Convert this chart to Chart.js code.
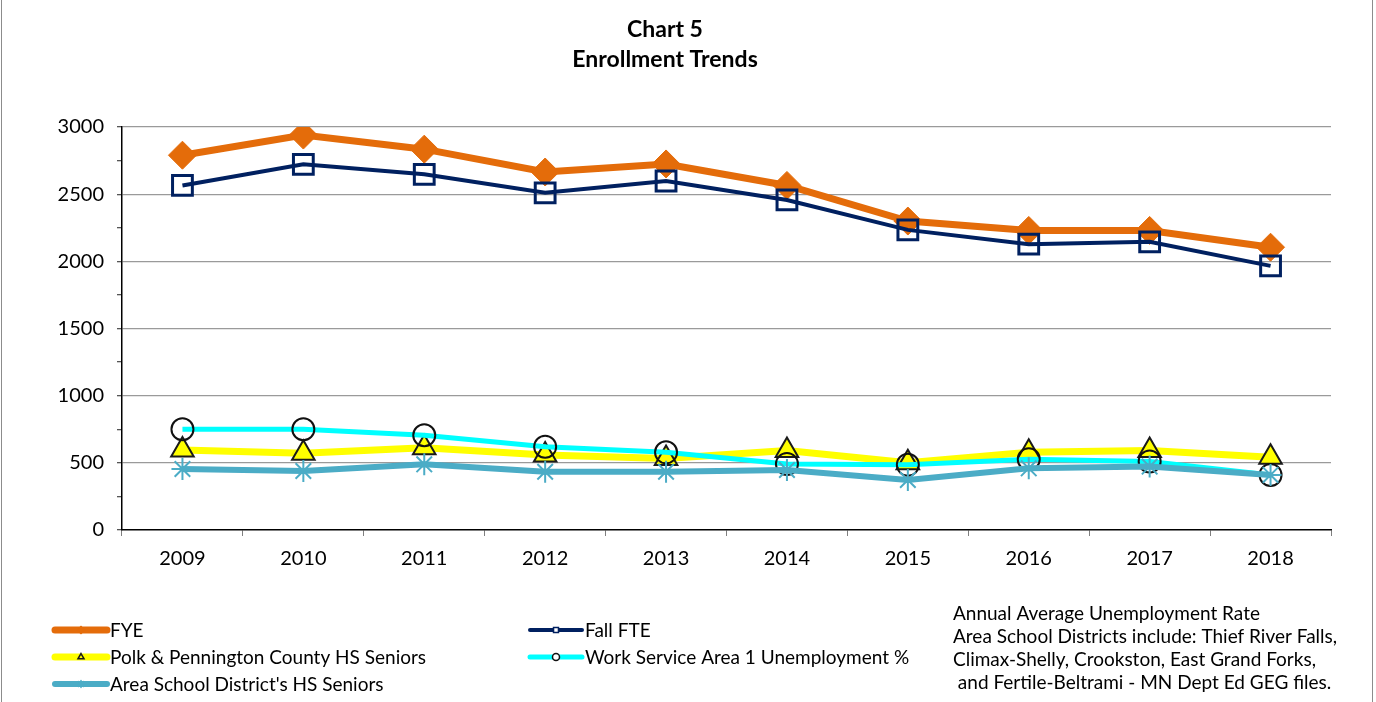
<!DOCTYPE html>
<html lang="en">
<head>
    <meta charset="UTF-8">
    <title>Chart 5 - Enrollment Trends</title>
    <script src="https://cdn.jsdelivr.net/npm/chart.js@4.4.0/dist/chart.umd.min.js"></script>
    <style>
        body {
            margin: 0;
            background: #fff;
        }
        .chart-box {
            position: relative;
            width: 1376px;
            height: 702px;
        }
        .chart-box::after {
            content: '';
            position: absolute;
            left: 1px;
            top: 0;
            right: 3px;
            bottom: 0;
            border: 1px solid #8c8c8c;
            border-top: none;
            border-bottom: none;
            pointer-events: none;
        }
    </style>
</head>
<body>
    <div class="chart-box">
        <canvas id="trend-chart" width="1376" height="702"></canvas>
    </div>

    <script>
        // Data
        const years = ['2009', '2010', '2011', '2012', '2013', '2014', '2015', '2016', '2017', '2018'];
        const fye = [2790, 2940, 2835, 2665, 2725, 2565, 2300, 2230, 2230, 2105];
        const fallFte = [2565, 2722, 2648, 2510, 2598, 2457, 2234, 2128, 2145, 1966];
        const polkSeniors = [596, 571, 613, 558, 533, 591, 500, 578, 591, 542];
        const unemployment = [750, 750, 705, 620, 578, 492, 485, 527, 510, 410];
        const areaSeniors = [454, 439, 489, 434, 434, 447, 372, 459, 472, 410];

        const titleLines = ['Chart 5', 'Enrollment Trends'];
        const noteLines = [
            'Annual Average Unemployment Rate',
            'Area School Districts include: Thief River Falls,',
            'Climax-Shelly, Crookston, East Grand Forks,',
            ' and Fertile-Beltrami - MN Dept Ed GEG files.'
        ];

        const FONT = "Lato, 'Liberation Sans', sans-serif";

        // Title, legend and footnote drawn on the canvas
        const extrasPlugin = {
            id: 'extras',
            afterDraw(chart) {
                const ctx = chart.ctx;
                ctx.save();
                ctx.fillStyle = '#000';
                ctx.textAlign = 'center';
                ctx.textBaseline = 'middle';
                ctx.font = 'bold 23px ' + FONT;
                ctx.fillText(titleLines[0], 665, 30);
                ctx.fillText(titleLines[1], 665, 60);

                // legend
                const slots = [[52, 630], [527, 630], [52, 657], [527, 657], [52, 684]];
                ctx.textAlign = 'left';
                ctx.font = '19px ' + FONT;
                chart.data.datasets.forEach((ds, i) => {
                    const [x, y] = slots[i];
                    ctx.strokeStyle = ds.borderColor;
                    ctx.lineWidth = ds.borderWidth;
                    ctx.lineCap = 'round';
                    ctx.beginPath();
                    ctx.moveTo(x + 3, y);
                    ctx.lineTo(x + 55, y);
                    ctx.stroke();
                    // hollow markers get a white centre in the legend
                    ctx.fillStyle = ds.pointBackgroundColor === 'rgba(0,0,0,0)' ? '#fff' : ds.pointBackgroundColor;
                    ctx.strokeStyle = ds.pointBorderColor;
                    ctx.lineWidth = 1.5;
                    Chart.helpers.drawPoint(ctx, {
                        pointStyle: ds.pointStyle,
                        radius: 3.5,
                        borderWidth: 1.5
                    }, x + 29, y);
                    ctx.fillStyle = '#000';
                    ctx.fillText(ds.label, x + 58, y + 1);
                });

                // footnote
                ctx.font = '19px ' + FONT;
                noteLines.forEach((line, i) => {
                    ctx.fillText(line, 953, 614 + i * 23);
                });
                ctx.restore();
            }
        };

        const chart = new Chart(document.getElementById('trend-chart'), {
            type: 'line',
            data: {
                labels: years,
                datasets: [{
                    label: 'FYE',
                    data: fye,
                    borderColor: '#e46c0a',
                    borderWidth: 7,
                    pointStyle: 'rectRot',
                    pointRadius: 14,
                    pointBackgroundColor: '#e46c0a',
                    pointBorderColor: '#e46c0a',
                    pointBorderWidth: 1,
                    order: 5
                }, {
                    label: 'Fall FTE',
                    data: fallFte,
                    borderColor: '#002060',
                    borderWidth: 4,
                    pointStyle: 'rect',
                    pointRadius: 14,
                    pointBackgroundColor: 'rgba(0,0,0,0)',
                    pointBorderColor: '#002060',
                    pointBorderWidth: 3,
                    order: 4
                }, {
                    label: 'Polk & Pennington County HS Seniors',
                    data: polkSeniors,
                    borderColor: '#ffff00',
                    borderWidth: 7,
                    pointStyle: 'triangle',
                    pointRadius: 13,
                    pointBackgroundColor: '#ffff00',
                    pointBorderColor: '#1a1a1a',
                    pointBorderWidth: 2,
                    order: 3
                }, {
                    label: 'Work Service Area 1 Unemployment %',
                    data: unemployment,
                    borderColor: '#00ffff',
                    borderWidth: 5,
                    pointStyle: 'circle',
                    pointRadius: 11,
                    pointBackgroundColor: 'rgba(0,0,0,0)',
                    pointBorderColor: '#111',
                    pointBorderWidth: 2,
                    order: 2
                }, {
                    label: "Area School District's HS Seniors",
                    data: areaSeniors,
                    borderColor: '#4bacc6',
                    borderWidth: 6,
                    pointStyle: 'star',
                    pointRadius: 11,
                    pointBackgroundColor: '#4bacc6',
                    pointBorderColor: '#4bacc6',
                    pointBorderWidth: 2,
                    order: 1
                }]
            },
            options: {
                responsive: false,
                animation: false,
                tension: 0,
                layout: {
                    padding: { left: 0, right: 45, top: 127, bottom: 132 }
                },
                plugins: {
                    legend: { display: false },
                    title: { display: false },
                    tooltip: { enabled: false }
                },
                scales: {
                    x: {
                        offset: true,
                        grid: {
                            offset: true,
                            drawOnChartArea: false,
                            tickLength: 6,
                            tickColor: '#7f7f7f'
                        },
                        border: { color: '#000', width: 1.5 },
                        ticks: {
                            color: '#000',
                            font: { family: FONT, size: 20 },
                            padding: 11
                        },
                        afterFit(axis) { axis.height = 40; }
                    },
                    y: {
                        min: 0,
                        max: 3000,
                        grid: {
                            color: ctx => (ctx.tick && ctx.tick.value % 500 === 0 && ctx.tick.value > 0) ? '#9a9a9a' : 'rgba(0,0,0,0)',
                            tickColor: '#555',
                            tickLength: 5,
                            lineWidth: 1.3
                        },
                        border: { color: '#000', width: 1.5 },
                        ticks: {
                            stepSize: 250,
                            autoSkip: false,
                            color: '#000',
                            font: { family: FONT, size: 20 },
                            padding: 13,
                            callback: v => (v % 500 === 0 ? v : '')
                        },
                        afterFit(axis) { axis.width = 122; }
                    }
                }
            },
            plugins: [extrasPlugin]
        });
    </script>
</body>
</html>
